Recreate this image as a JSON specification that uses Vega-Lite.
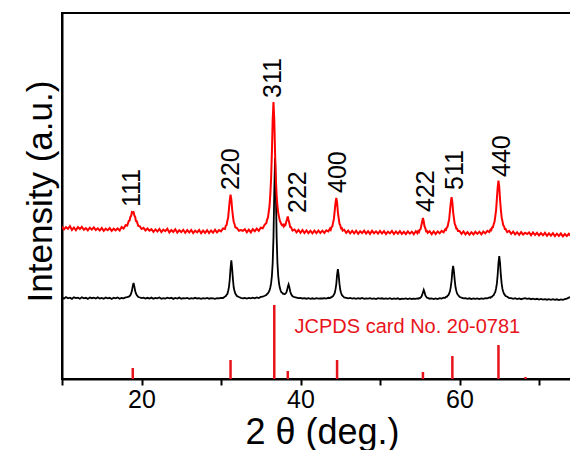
{
"$schema":"https://vega.github.io/schema/vega-lite/v6.json",
"autosize":{"type":"none"},
"padding":{"left":62,"top":13,"right":0,"bottom":71},
"width":510,"height":366,
"config":{"view":{"stroke":"#000","strokeWidth":2},"font":"Liberation Sans"},
"datasets":{
"pattern":[
{"x":10.0,"r":152.3,"b":81.6},{"x":10.25,"r":149.6,"b":80.4},{"x":10.5,"r":151.8,"b":81.9},{"x":10.75,"r":150.2,"b":80.7},{"x":11.0,"r":152.9,"b":81.3},{"x":11.25,"r":149.1,"b":80.2},{"x":11.5,"r":151.5,"b":81.8},{"x":11.75,"r":148.8,"b":80.9},{"x":12.0,"r":151.9,"b":81.4},{"x":12.25,"r":150.0,"b":80.3},{"x":12.5,"r":152.2,"b":81.7},{"x":12.75,"r":149.3,"b":80.6},{"x":13.0,"r":150.8,"b":81.2},{"x":13.25,"r":148.6,"b":80.1},{"x":13.5,"r":151.3,"b":81.5},{"x":13.75,"r":149.4,"b":80.8},{"x":14.0,"r":151.6,"b":81.3},{"x":14.25,"r":148.9,"b":80.4},{"x":14.5,"r":150.7,"b":81.6},{"x":14.75,"r":148.5,"b":80.5},{"x":15.0,"r":151.0,"b":81.1},{"x":15.25,"r":148.2,"b":80.2},{"x":15.5,"r":150.4,"b":81.4},{"x":15.75,"r":148.8,"b":80.7},{"x":16.0,"r":150.9,"b":81.2},{"x":16.25,"r":148.1,"b":80.0},{"x":16.5,"r":150.3,"b":81.3},{"x":16.75,"r":148.7,"b":80.6},{"x":17.0,"r":150.6,"b":81.5},{"x":17.25,"r":148.4,"b":80.3},{"x":17.5,"r":151.9,"b":81.0},{"x":17.75,"r":150.4,"b":80.6},
{"x":18.0,"r":153.8,"b":81.6},{"x":18.2,"r":153.5,"b":81.9},{"x":18.4,"r":158.0,"b":82.3},{"x":18.5,"r":158.5,"b":83.0},{"x":18.6,"r":162.0,"b":83.8},{"x":18.7,"r":163.2,"b":85.5},{"x":18.8,"r":167.0,"b":88.4},{"x":18.9,"r":166.5,"b":92.8},{"x":19.0,"r":166.9,"b":96.0},{"x":19.1,"r":163.5,"b":92.6},{"x":19.2,"r":162.1,"b":88.2},{"x":19.3,"r":158.0,"b":85.6},{"x":19.4,"r":157.8,"b":84.0},{"x":19.6,"r":153.0,"b":82.0},{"x":19.8,"r":152.6,"b":81.5},
{"x":20.0,"r":150.0,"b":80.9},{"x":20.25,"r":151.2,"b":81.3},{"x":20.5,"r":148.6,"b":80.4},{"x":20.75,"r":150.5,"b":81.2},{"x":21.0,"r":148.3,"b":80.5},{"x":21.25,"r":149.9,"b":81.4},{"x":21.5,"r":147.2,"b":80.3},{"x":21.75,"r":149.6,"b":81.0},{"x":22.0,"r":147.5,"b":80.6},{"x":22.25,"r":150.1,"b":81.5},{"x":22.5,"r":146.9,"b":80.2},{"x":22.75,"r":149.3,"b":80.9},{"x":23.0,"r":147.8,"b":80.4},{"x":23.25,"r":150.3,"b":81.3},{"x":23.5,"r":146.6,"b":80.7},{"x":23.75,"r":149.0,"b":81.2},{"x":24.0,"r":147.1,"b":80.1},{"x":24.25,"r":149.8,"b":81.0},{"x":24.5,"r":146.4,"b":80.5},{"x":24.75,"r":148.7,"b":81.4},{"x":25.0,"r":146.9,"b":80.3},{"x":25.25,"r":149.2,"b":80.9},{"x":25.5,"r":146.2,"b":80.6},{"x":25.75,"r":148.9,"b":81.1},{"x":26.0,"r":146.5,"b":80.2},{"x":26.25,"r":149.1,"b":80.8},{"x":26.5,"r":145.9,"b":80.4},{"x":26.75,"r":148.3,"b":81.2},{"x":27.0,"r":146.7,"b":80.5},{"x":27.25,"r":149.0,"b":80.9},{"x":27.5,"r":145.8,"b":80.1},{"x":27.75,"r":148.4,"b":80.8},{"x":28.0,"r":146.1,"b":80.4},{"x":28.25,"r":148.8,"b":81.0},{"x":28.5,"r":146.0,"b":80.3},{"x":28.75,"r":148.5,"b":80.9},{"x":29.0,"r":146.3,"b":80.6},{"x":29.25,"r":149.2,"b":80.2},{"x":29.5,"r":146.5,"b":80.8},{"x":29.75,"r":148.9,"b":80.6},
{"x":30.0,"r":147.6,"b":81.2},{"x":30.25,"r":150.6,"b":81.0},{"x":30.5,"r":150.0,"b":82.5},{"x":30.6,"r":153.2,"b":82.7},{"x":30.7,"r":153.9,"b":84.1},{"x":30.8,"r":158.1,"b":85.0},{"x":30.9,"r":161.5,"b":88.0},{"x":31.0,"r":170.2,"b":91.9},{"x":31.1,"r":178.4,"b":99.5},{"x":31.2,"r":184.3,"b":110.8},{"x":31.3,"r":179.6,"b":118.6},{"x":31.4,"r":169.9,"b":110.4},{"x":31.5,"r":162.8,"b":99.8},{"x":31.6,"r":157.0,"b":91.5},{"x":31.7,"r":155.0,"b":87.9},{"x":31.8,"r":151.8,"b":85.5},{"x":32.0,"r":151.0,"b":83.0},{"x":32.25,"r":148.3,"b":82.0},{"x":32.5,"r":149.0,"b":81.2},{"x":32.75,"r":148.2,"b":80.7},{"x":33.0,"r":149.8,"b":81.0},{"x":33.25,"r":146.8,"b":80.4},{"x":33.5,"r":149.3,"b":81.1},{"x":33.75,"r":146.6,"b":80.6},{"x":34.0,"r":149.8,"b":81.3},{"x":34.25,"r":147.8,"b":80.7},{"x":34.5,"r":150.4,"b":81.6},{"x":34.75,"r":148.2,"b":81.0},{"x":35.0,"r":151.3,"b":82.1},{"x":35.25,"r":150.7,"b":82.3},{"x":35.5,"r":154.4,"b":83.2},{"x":35.7,"r":155.8,"b":84.0},{"x":35.8,"r":159.4,"b":85.1},{"x":35.9,"r":161.3,"b":85.6},
{"x":36.0,"r":166.8,"b":87.0},{"x":36.1,"r":172.5,"b":88.6},{"x":36.2,"r":184.1,"b":91.5},{"x":36.3,"r":200.3,"b":95.6},{"x":36.4,"r":226.3,"b":102.8},{"x":36.5,"r":259.0,"b":116.0},{"x":36.6,"r":277.0,"b":141.5},{"x":36.7,"r":259.5,"b":186.5},{"x":36.8,"r":226.0,"b":221.0},{"x":36.9,"r":200.0,"b":186.8},{"x":37.0,"r":183.5,"b":141.6},{"x":37.1,"r":172.8,"b":115.9},{"x":37.2,"r":166.0,"b":102.8},{"x":37.3,"r":161.9,"b":95.5},{"x":37.4,"r":158.3,"b":91.2},{"x":37.5,"r":156.5,"b":88.5},{"x":37.6,"r":154.5,"b":86.7},{"x":37.7,"r":153.7,"b":86.2},{"x":37.8,"r":154.4,"b":85.1},{"x":37.9,"r":152.6,"b":85.2},{"x":38.0,"r":154.2,"b":84.8},{"x":38.1,"r":153.9,"b":85.4},{"x":38.2,"r":157.0,"b":86.2},{"x":38.3,"r":159.5,"b":88.4},{"x":38.4,"r":162.6,"b":92.1},{"x":38.5,"r":159.0,"b":94.6},{"x":38.6,"r":155.8,"b":91.8},{"x":38.7,"r":152.0,"b":87.8},{"x":38.8,"r":151.8,"b":85.2},{"x":39.0,"r":148.4,"b":82.8},{"x":39.25,"r":149.5,"b":81.8},{"x":39.5,"r":146.6,"b":81.3},{"x":39.75,"r":149.0,"b":80.8},
{"x":40.0,"r":146.2,"b":81.1},{"x":40.25,"r":148.9,"b":80.5},{"x":40.5,"r":146.0,"b":80.9},{"x":40.75,"r":148.6,"b":80.3},{"x":41.0,"r":145.8,"b":80.8},{"x":41.25,"r":148.2,"b":80.1},{"x":41.5,"r":145.6,"b":80.7},{"x":41.75,"r":148.4,"b":80.2},{"x":42.0,"r":145.9,"b":80.9},{"x":42.25,"r":148.4,"b":80.3},{"x":42.5,"r":146.0,"b":80.6},{"x":42.75,"r":148.3,"b":80.5},{"x":43.0,"r":146.1,"b":80.9},{"x":43.25,"r":148.6,"b":80.4},{"x":43.5,"r":147.5,"b":81.2},{"x":43.7,"r":150.3,"b":80.9},{"x":43.8,"r":149.2,"b":81.6},{"x":43.9,"r":151.9,"b":81.7},{"x":44.0,"r":152.6,"b":82.5},{"x":44.1,"r":156.4,"b":82.9},{"x":44.2,"r":160.1,"b":84.4},{"x":44.3,"r":167.9,"b":85.8},{"x":44.4,"r":175.8,"b":89.6},{"x":44.5,"r":181.2,"b":94.7},{"x":44.6,"r":176.6,"b":104.2},{"x":44.7,"r":166.8,"b":110.0},{"x":44.8,"r":160.9,"b":103.8},{"x":44.9,"r":155.4,"b":95.3},{"x":45.0,"r":153.7,"b":89.2},{"x":45.1,"r":150.7,"b":86.3},{"x":45.2,"r":150.8,"b":84.0},{"x":45.3,"r":148.4,"b":83.2},{"x":45.5,"r":149.2,"b":81.5},{"x":45.75,"r":146.1,"b":81.2},{"x":46.0,"r":148.4,"b":80.6},{"x":46.25,"r":145.7,"b":81.1},{"x":46.5,"r":148.1,"b":80.4},{"x":46.75,"r":145.6,"b":80.9},{"x":47.0,"r":148.3,"b":80.2},{"x":47.25,"r":145.2,"b":80.8},{"x":47.5,"r":147.7,"b":80.3},{"x":47.75,"r":145.9,"b":81.0},{"x":48.0,"r":148.4,"b":80.1},{"x":48.25,"r":145.4,"b":80.7},{"x":48.5,"r":147.9,"b":80.4},{"x":48.75,"r":145.1,"b":80.9},{"x":49.0,"r":148.2,"b":80.2},{"x":49.25,"r":145.7,"b":80.6},{"x":49.5,"r":147.6,"b":80.0},{"x":49.75,"r":145.3,"b":80.8},
{"x":50.0,"r":148.0,"b":80.3},{"x":50.25,"r":145.5,"b":80.7},{"x":50.5,"r":147.8,"b":80.1},{"x":50.75,"r":145.0,"b":80.6},{"x":51.0,"r":147.4,"b":80.2},{"x":51.25,"r":145.6,"b":80.8},{"x":51.5,"r":148.1,"b":79.9},{"x":51.75,"r":144.9,"b":80.5},{"x":52.0,"r":147.5,"b":80.2},{"x":52.25,"r":145.3,"b":80.7},{"x":52.5,"r":147.9,"b":79.8},{"x":52.75,"r":145.1,"b":80.4},{"x":53.0,"r":147.2,"b":80.1},{"x":53.25,"r":144.8,"b":80.6},{"x":53.5,"r":147.6,"b":79.9},{"x":53.75,"r":145.4,"b":80.5},{"x":54.0,"r":147.3,"b":80.0},{"x":54.25,"r":144.8,"b":80.4},{"x":54.5,"r":147.8,"b":80.1},{"x":54.7,"r":145.8,"b":80.6},{"x":54.8,"r":147.9,"b":80.3},{"x":54.9,"r":147.0,"b":80.9},{"x":55.0,"r":149.2,"b":80.8},{"x":55.1,"r":149.8,"b":81.6},{"x":55.2,"r":153.5,"b":82.1},{"x":55.3,"r":157.2,"b":84.1},{"x":55.4,"r":161.1,"b":86.6},{"x":55.5,"r":157.7,"b":89.1},{"x":55.6,"r":152.5,"b":86.9},{"x":55.7,"r":150.8,"b":83.8},{"x":55.8,"r":147.8,"b":82.4},{"x":55.9,"r":148.0,"b":81.3},{"x":56.0,"r":146.1,"b":81.1},{"x":56.25,"r":147.7,"b":80.3},{"x":56.5,"r":144.8,"b":80.6},{"x":56.75,"r":147.6,"b":80.0},{"x":57.0,"r":144.9,"b":80.5},{"x":57.25,"r":147.6,"b":79.9},{"x":57.5,"r":145.7,"b":80.8},{"x":57.75,"r":148.1,"b":80.4},{"x":58.0,"r":146.7,"b":81.3},{"x":58.2,"r":149.6,"b":81.2},{"x":58.3,"r":149.1,"b":82.1},{"x":58.4,"r":151.6,"b":82.2},{"x":58.5,"r":152.3,"b":83.3},{"x":58.6,"r":156.2,"b":83.8},{"x":58.7,"r":159.8,"b":85.7},{"x":58.8,"r":167.9,"b":87.7},{"x":58.9,"r":176.2,"b":92.2},{"x":59.0,"r":181.8,"b":98.1},{"x":59.1,"r":177.0,"b":107.9},{"x":59.2,"r":166.9,"b":113.0},{"x":59.3,"r":160.7,"b":107.4},{"x":59.4,"r":155.1,"b":98.6},{"x":59.5,"r":153.3,"b":91.7},{"x":59.6,"r":150.4,"b":88.1},{"x":59.7,"r":150.3,"b":85.3},{"x":59.8,"r":148.1,"b":84.2},
{"x":60.0,"r":148.1,"b":82.2},{"x":60.25,"r":145.2,"b":81.3},{"x":60.5,"r":147.5,"b":80.6},{"x":60.75,"r":144.6,"b":80.9},{"x":61.0,"r":146.9,"b":80.2},{"x":61.25,"r":144.3,"b":80.7},{"x":61.5,"r":146.8,"b":79.9},{"x":61.75,"r":144.6,"b":80.5},{"x":62.0,"r":147.2,"b":80.1},{"x":62.25,"r":145.1,"b":80.6},{"x":62.5,"r":147.3,"b":79.9},{"x":62.75,"r":144.7,"b":80.6},{"x":63.0,"r":147.4,"b":80.2},{"x":63.25,"r":145.6,"b":80.9},{"x":63.5,"r":148.2,"b":80.7},{"x":63.75,"r":146.9,"b":81.5},{"x":63.9,"r":149.5,"b":81.3},{"x":64.0,"r":148.9,"b":82.2},{"x":64.1,"r":151.5,"b":82.4},{"x":64.2,"r":151.6,"b":83.4},{"x":64.3,"r":154.9,"b":83.8},{"x":64.4,"r":156.9,"b":85.6},{"x":64.5,"r":162.6,"b":87.0},{"x":64.6,"r":168.7,"b":90.6},{"x":64.7,"r":180.1,"b":95.3},{"x":64.8,"r":191.5,"b":104.2},{"x":64.9,"r":198.5,"b":115.8},{"x":65.0,"r":192.1,"b":122.9},{"x":65.1,"r":179.1,"b":116.0},{"x":65.2,"r":169.7,"b":103.8},{"x":65.3,"r":161.6,"b":95.6},{"x":65.4,"r":157.9,"b":90.1},{"x":65.5,"r":153.7,"b":87.3},{"x":65.6,"r":152.8,"b":85.1},{"x":65.7,"r":150.0,"b":84.1},{"x":65.8,"r":150.0,"b":83.0},{"x":66.0,"r":146.9,"b":82.2},{"x":66.25,"r":148.2,"b":81.0},{"x":66.5,"r":145.1,"b":80.9},{"x":66.75,"r":147.4,"b":80.2},{"x":67.0,"r":144.6,"b":80.8},{"x":67.25,"r":146.8,"b":80.0},{"x":67.5,"r":144.2,"b":80.6},{"x":67.75,"r":146.9,"b":79.8},{"x":68.0,"r":144.5,"b":80.4},{"x":68.25,"r":146.3,"b":80.9},{"x":68.5,"r":144.9,"b":80.2},{"x":68.75,"r":146.6,"b":80.5},{"x":69.0,"r":143.8,"b":79.8},{"x":69.25,"r":146.5,"b":80.3},{"x":69.5,"r":144.0,"b":79.6},{"x":69.75,"r":146.1,"b":80.2},
{"x":70.0,"r":143.5,"b":79.5},{"x":70.25,"r":145.9,"b":80.1},{"x":70.5,"r":143.7,"b":79.4},{"x":70.75,"r":146.2,"b":79.9},{"x":71.0,"r":143.2,"b":79.3},{"x":71.25,"r":145.6,"b":79.8},{"x":71.5,"r":143.4,"b":79.2},{"x":71.75,"r":145.8,"b":79.9},{"x":72.0,"r":142.9,"b":79.1},{"x":72.25,"r":145.3,"b":79.7},{"x":72.5,"r":143.1,"b":79.0},{"x":72.75,"r":145.5,"b":79.6},{"x":73.0,"r":142.7,"b":79.2},{"x":73.25,"r":145.0,"b":79.8},{"x":73.5,"r":142.9,"b":80.4},{"x":73.75,"r":145.2,"b":81.3},{"x":74.0,"r":143.0,"b":82.0},{"x":74.25,"r":145.1,"b":82.9}
],
"sticks":[
{"x":18.9,"h":11},{"x":31.2,"h":19},{"x":36.7,"h":74},{"x":38.4,"h":8},{"x":44.6,"h":19},{"x":55.4,"h":7},{"x":59.1,"h":23},{"x":64.9,"h":34},{"x":68.3,"h":2}
],
"labels":[
{"x":18.8,"y":172,"t":"111"},{"x":31.3,"y":189,"t":"220"},{"x":36.6,"y":281,"t":"311"},{"x":39.7,"y":166,"t":"222"},{"x":44.7,"y":186,"t":"400"},{"x":55.8,"y":167,"t":"422"},{"x":59.4,"y":189,"t":"511"},{"x":65.3,"y":202,"t":"440"}
],
"card":[{"x":39.25,"y":46,"t":"JCPDS card No. 20-0781"}]
},
"encoding":{
  "x":{"field":"x","type":"quantitative","scale":{"domain":[10,74.15],"nice":false,"zero":false},
   "axis":{"values":[10,20,30,40,50,60,70],"labelExpr":"datum.value % 20 === 0 ? datum.label : ''","title":"2 θ (deg.)","grid":false,"tickSize":6,"tickWidth":2,"tickColor":"#000","domainWidth":2,"domainColor":"#000","labelFontSize":25,"labelColor":"#000","labelPadding":2,"labelFont":"Liberation Sans","labelFlush":false,"titleFont":"Liberation Sans","titleFontSize":36,"titleFontWeight":"normal","titleColor":"#000","titleX":260,"titleY":64,"titleBaseline":"alphabetic"}}
},
"layer":[
{"data":{"name":"pattern"},
 "mark":{"type":"line","color":"#000000","strokeWidth":1.8,"clip":true},
 "encoding":{
  "y":{"field":"b","type":"quantitative","scale":{"domain":[0,366],"nice":false,"zero":false},
   "axis":{"title":"Intensity (a.u.)","ticks":false,"labels":false,"grid":false,"domainWidth":2,"domainColor":"#000","titleFont":"Liberation Sans","titleFontSize":35,"titleFontWeight":"normal","titleColor":"#000","titlePadding":4,"titleY":178}}
 }},
{"data":{"name":"pattern"},
 "mark":{"type":"line","color":"#ff0000","strokeWidth":2,"clip":true},
 "encoding":{"y":{"field":"r","type":"quantitative"}}},
{"data":{"name":"sticks"},
 "mark":{"type":"rule","color":"#e8141c","strokeWidth":2.5},
 "encoding":{"y":{"field":"h","type":"quantitative"},"y2":{"datum":0}}},
{"data":{"name":"labels"},
 "mark":{"type":"text","angle":270,"align":"left","baseline":"middle","fontSize":25,"font":"Liberation Sans","color":"#000"},
 "encoding":{"y":{"field":"y","type":"quantitative"},"text":{"field":"t"}}},
{"data":{"name":"card"},
 "mark":{"type":"text","align":"left","baseline":"alphabetic","fontSize":20,"font":"Liberation Sans","color":"#e8141c"},
 "encoding":{"y":{"field":"y","type":"quantitative"},"text":{"field":"t"}}}
]
}
